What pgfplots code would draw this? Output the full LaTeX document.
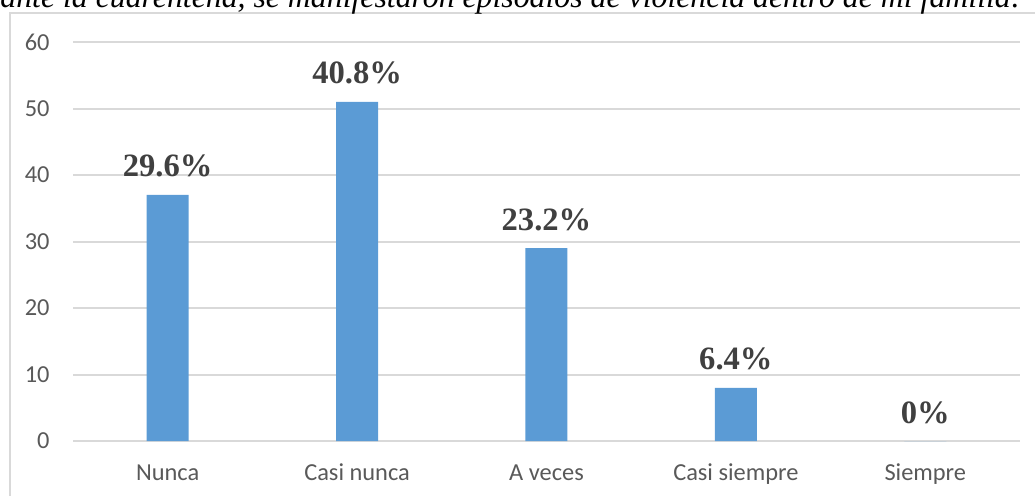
\documentclass[border=0pt]{standalone}
\usepackage{fontspec}
\setmainfont{Carlito}
\newfontfamily\timesfont{Liberation Serif}
\usepackage{pgfplots}
\pgfplotsset{compat=1.18}
\definecolor{barblue}{HTML}{5B9BD5}
\definecolor{gridgrey}{HTML}{D9D9D9}
\definecolor{ticktext}{HTML}{595959}
\definecolor{labeltext}{HTML}{404040}

\begin{document}
\begin{tikzpicture}
\begin{axis}[
  at={(36.5pt,27pt)}, anchor=south west, scale only axis,
  width=473.5pt, height=199.5pt,
  xmin=-0.5, xmax=4.5, ymin=0, ymax=60,
  ytick={0,10,...,60},
  xtick={0,1,2,3,4},
  xticklabels={Nunca, Casi nunca, A veces, Casi siempre, Siempre},
  axis line style={draw=none},
  major tick length=0pt,
  ymajorgrids, grid style={gridgrey, line width=1pt},
  tick label style={font=\fontsize{12.2}{14}\selectfont, text=ticktext},
  yticklabel style={anchor=east, inner sep=0pt, xshift=-11.5pt},
  xticklabel style={anchor=base, inner sep=0pt, yshift=-19.5pt},
  /pgf/number format/assume math mode=true,
  clip=false,
]
\addplot[ybar, bar width=21pt, bar shift=0pt, fill=barblue, draw=none,
  point meta=explicit symbolic, nodes near coords,
  nodes near coords style={font=\timesfont\bfseries\fontsize{16.3}{18}\selectfont,
    text=labeltext, anchor=base, inner sep=0pt, yshift=9pt}]
  coordinates {(0,37)[29.6\%] (1,51)[40.8\%] (2,29)[23.2\%] (3,8)[6.4\%] (4,0)[0\%]};
\end{axis}
% frame of the chart area (cut off at right and bottom)
\draw[gridgrey, line width=1pt] (4.75pt,-10pt) -- (4.75pt,241pt) -- (530pt,241pt);
% title, cut off at the top
\node[anchor=base west, inner sep=0, text=black,
  font=\timesfont\itshape\fontsize{15.9}{18}\selectfont] at (0pt,243.75pt)
  {ante la cuarentena, se manifestaron episodios de violencia dentro de mi familia:};
\pgfresetboundingbox
\useasboundingbox (0pt,0pt) rectangle (517.5pt,247.5pt);
\end{tikzpicture}
\end{document}
